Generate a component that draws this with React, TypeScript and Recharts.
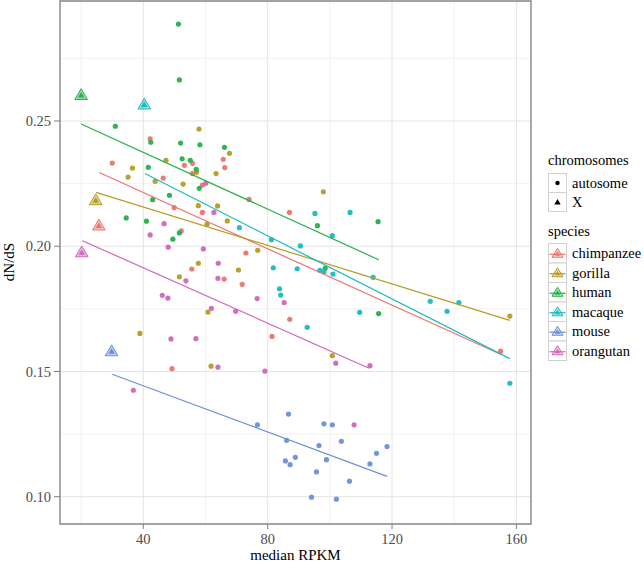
import React from 'react';
import { ScatterChart, Scatter, XAxis, YAxis, CartesianGrid, ReferenceArea } from 'recharts';

type P = [number, number];

const speciesNames = ['chimpanzee', 'gorilla', 'human', 'macaque', 'mouse', 'orangutan'];
const speciesColors = ['#EB746D', '#B59C22', '#25B04A', '#18BABF', '#6C90D6', '#D066BC'];
const chromosomeNames = ['autosome', 'X'];

const chimpanzeeAutosome: P[] = [
  [42.2, 0.2429], [30.0, 0.2332], [53.2, 0.2323], [55.8, 0.2331], [55.8, 0.2290], [46.4, 0.2272],
  [59.0, 0.2244], [49.9, 0.2154], [59.0, 0.2135], [52.2, 0.2061], [65.7, 0.2347], [66.2, 0.2314],
  [74.0, 0.2187], [87.0, 0.2135], [73.0, 0.1973], [55.6, 0.1909], [49.2, 0.1511], [66.0, 0.1869],
  [71.8, 0.1848], [87.1, 0.1708], [81.4, 0.1640], [154.9, 0.1581],
];
const gorillaAutosome: P[] = [
  [57.9, 0.2468], [36.5, 0.2312], [35.1, 0.2276], [47.3, 0.2343], [57.1, 0.2295], [63.4, 0.2290],
  [43.8, 0.2259], [52.8, 0.2248], [57.7, 0.2162], [63.9, 0.2161], [60.5, 0.2088], [67.7, 0.2371],
  [67.0, 0.2101], [97.9, 0.2217], [76.8, 0.1984], [57.7, 0.1932], [51.6, 0.1878], [60.8, 0.1737],
  [38.9, 0.1652], [61.8, 0.1521], [70.6, 0.1905], [100.8, 0.1563], [157.9, 0.1721],
];
const humanAutosome: P[] = [
  [51.3, 0.2887], [51.6, 0.2664], [31.0, 0.2479], [42.4, 0.2415], [52.0, 0.2412], [58.2, 0.2405],
  [41.6, 0.2315], [52.5, 0.2349], [55.1, 0.2343], [57.0, 0.2307], [58.0, 0.2231], [43.0, 0.2186],
  [48.4, 0.2203], [34.5, 0.2113], [41.0, 0.2100], [51.6, 0.2053], [49.5, 0.2028], [66.1, 0.2395],
  [96.0, 0.2082], [115.5, 0.2098], [98.5, 0.1912], [115.7, 0.1731],
];
const macaqueAutosome: P[] = [
  [70.9, 0.2074], [95.2, 0.2131], [106.5, 0.2135], [100.8, 0.2042], [81.2, 0.2026], [90.5, 0.2001],
  [81.8, 0.1914], [89.5, 0.1910], [96.8, 0.1904], [98.1, 0.1898], [101.0, 0.1889], [113.9, 0.1876],
  [83.8, 0.1830], [84.2, 0.1805], [92.7, 0.1676], [109.6, 0.1736], [132.3, 0.1780], [137.7, 0.1740],
  [141.5, 0.1775], [157.9, 0.1453],
];
const mouseAutosome: P[] = [
  [86.7, 0.1330], [76.7, 0.1287], [98.1, 0.1291], [100.8, 0.1287], [86.1, 0.1225], [103.7, 0.1221],
  [96.5, 0.1204], [85.7, 0.1143], [87.2, 0.1128], [88.9, 0.1157], [98.9, 0.1148], [95.7, 0.1099],
  [106.3, 0.1062], [94.1, 0.0998], [102.1, 0.0990], [115.0, 0.1173], [112.9, 0.1131], [118.4, 0.1200],
];
const orangutanAutosome: P[] = [
  [60.1, 0.2251], [62.7, 0.2135], [46.7, 0.2090], [42.2, 0.2045], [48.0, 0.1996], [59.3, 0.1989],
  [64.1, 0.1932], [53.7, 0.1862], [64.0, 0.1872], [46.1, 0.1804], [47.9, 0.1793], [61.9, 0.1752],
  [48.9, 0.1630], [56.9, 0.1631], [64.0, 0.1517], [36.8, 0.1425], [76.6, 0.1791], [69.7, 0.1740],
  [85.3, 0.1775], [79.1, 0.1501], [101.9, 0.1533], [112.9, 0.1523], [107.8, 0.1287],
];

// X chromosome value per species (same order as speciesNames)
const xChromosome: P[] = [
  [25.7, 0.2084], [24.7, 0.2185], [20.0, 0.2605], [40.3, 0.2567], [29.8, 0.1582], [20.2, 0.1977],
];

// fitted line end points per species
const fitLines: P[][] = [
  [[25.8, 0.2294], [154.9, 0.1569]],
  [[24.8, 0.2215], [157.9, 0.1704]],
  [[20.0, 0.2488], [115.7, 0.1946]],
  [[40.5, 0.2290], [157.9, 0.1551]],
  [[30.0, 0.1489], [118.4, 0.1081]],
  [[20.4, 0.2022], [112.6, 0.1513]],
];

const autosomes: P[][] = [
  chimpanzeeAutosome, gorillaAutosome, humanAutosome, macaqueAutosome, mouseAutosome, orangutanAutosome,
];

const xTicks = [40, 80, 120, 160];
const yTicks = [0.1, 0.15, 0.2, 0.25];
const xMinor = [20, 60, 100, 140];
const yMinor = [0.125, 0.175, 0.225, 0.275];
const xDomain: [number, number] = [13.2, 164.7];
const yDomain: [number, number] = [0.0891, 0.2979];

const FONT = '"Liberation Serif", "Times New Roman", serif';

const toObj = (arr: P[]) => arr.map(([x, y]) => ({ x, y }));

const Dot = (color: string) => (props: any) => {
  const { cx, cy } = props;
  if (cx == null || cy == null) return <g />;
  return <circle cx={cx} cy={cy} r={2.6} fill={color} fillOpacity={0.95} />;
};

const Tri = (color: string) => (props: any) => {
  const { cx, cy } = props;
  if (cx == null || cy == null) return <g />;
  const outer = `${cx},${cy - 6} ${cx - 6.3},${cy + 4.8} ${cx + 6.3},${cy + 4.8}`;
  const inner = `${cx},${cy - 2.6} ${cx - 3.2},${cy + 2.8} ${cx + 3.2},${cy + 2.8}`;
  return (
    <g>
      <polygon points={outer} fill={color} fillOpacity={0.45} stroke={color} strokeWidth={1} />
      <polygon points={inner} fill={color} />
    </g>
  );
};

const NoShape = () => <g />;

const YTitle = () => (
  <text x={14} y={262} transform="rotate(-90 14 262)" textAnchor="middle" fontSize={15} fill="#000" style={{ fontFamily: FONT }}>
    dN/dS
  </text>
);

const Legend = () => {
  const lx = 548;
  const kw = 18;
  const chromoCenters = [183, 202];
  const speciesTop = 243.5;
  const rowH = 19.5;
  return (
    <svg width={644} height={564} style={{ position: 'absolute', left: 0, top: 0, pointerEvents: 'none', fontFamily: FONT }}>
      <g fontSize={14.5} fill="#000" style={{ fontFamily: FONT }}>
        <text x={lx} y={160} dy="0.35em">chromosomes</text>
        {chromosomeNames.map((n, i) => {
          const cy = chromoCenters[i];
          return (
            <g key={n}>
              <rect x={lx + 0.5} y={cy - 9.5} width={kw} height={19} fill="#fff" stroke="#d0d0d0" strokeWidth={1} />
              {i === 0 ? (
                <circle cx={lx + 9.5} cy={cy} r={2.2} fill="#000" />
              ) : (
                <polygon points={`${lx + 9.5},${cy - 3} ${lx + 6.3},${cy + 2.5} ${lx + 12.7},${cy + 2.5}`} fill="#000" />
              )}
              <text x={lx + 24} y={cy} dy="0.35em">{n}</text>
            </g>
          );
        })}
        <text x={lx} y={231} dy="0.35em">species</text>
        {speciesNames.map((n, i) => {
          const cy = speciesTop + rowH * i + rowH / 2;
          const c = speciesColors[i];
          const cx = lx + 9.5;
          return (
            <g key={n}>
              <rect x={lx + 0.5} y={speciesTop + rowH * i} width={kw} height={rowH} fill="#fff" stroke="#d0d0d0" strokeWidth={1} />
              <line x1={lx + 1.5} x2={lx + kw - 0.5} y1={cy + 1} y2={cy + 1} stroke={c} strokeWidth={1.2} />
              <polygon points={`${cx},${cy - 5} ${cx - 5.5},${cy + 4} ${cx + 5.5},${cy + 4}`} fill={c} fillOpacity={0.35} stroke={c} strokeWidth={1} />
              <polygon points={`${cx},${cy - 2} ${cx - 2.5},${cy + 2.5} ${cx + 2.5},${cy + 2.5}`} fill={c} />
              <text x={lx + 24} y={cy} dy="0.35em">{n}</text>
            </g>
          );
        })}
      </g>
    </svg>
  );
};

export default function App() {
  return (
    <div style={{ position: 'absolute', left: 0, top: 0, width: 644, height: 564, background: '#fff', fontFamily: FONT }}>
      <ScatterChart width={644} height={564} margin={{ top: 1, right: 113, bottom: 0, left: 0 }} style={{ fontFamily: FONT }}>
        <CartesianGrid horizontalValues={yMinor} verticalValues={xMinor} stroke="#f2f2f2" strokeWidth={1} />
        <CartesianGrid horizontalValues={yTicks} verticalValues={xTicks} stroke="#e4e4e4" strokeWidth={1} />
        <XAxis
          type="number"
          dataKey="x"
          domain={xDomain}
          ticks={xTicks}
          allowDataOverflow
          axisLine={false}
          tickLine={{ stroke: '#7f7f7f' }}
          tickSize={5}
          tickMargin={5}
          height={40}
          tick={{ fill: '#4d4d4d', fontSize: 14.5, fontFamily: FONT }}
          label={{ value: 'median RPKM', position: 'insideBottom', offset: 4, fill: '#000', fontSize: 15, fontFamily: FONT }}
        />
        <YAxis
          type="number"
          dataKey="y"
          domain={yDomain}
          ticks={yTicks}
          allowDataOverflow
          axisLine={false}
          tickLine={{ stroke: '#7f7f7f' }}
          tickSize={6}
          tickMargin={3}
          width={60}
          tickFormatter={(v: number) => v.toFixed(2)}
          tick={{ fill: '#4d4d4d', fontSize: 14.5, fontFamily: FONT }}
          label={<YTitle />}
        />
        {autosomes.map((pts, i) => (
          <Scatter
            key={`a-${speciesNames[i]}`}
            name={speciesNames[i]}
            data={toObj(pts)}
            shape={Dot(speciesColors[i])}
            isAnimationActive={false}
          />
        ))}
        {xChromosome.map((pt, i) => (
          <Scatter
            key={`x-${speciesNames[i]}`}
            data={toObj([pt])}
            shape={Tri(speciesColors[i])}
            isAnimationActive={false}
          />
        ))}
        {fitLines.map((ln, i) => (
          <Scatter
            key={`f-${speciesNames[i]}`}
            data={toObj(ln)}
            line={{ stroke: speciesColors[i], strokeWidth: 1.2 }}
            shape={NoShape}
            isAnimationActive={false}
          />
        ))}
        <ReferenceArea
          x1={xDomain[0]}
          x2={xDomain[1]}
          y1={yDomain[0]}
          y2={yDomain[1]}
          fill="none"
          fillOpacity={0}
          stroke="#858585"
          strokeWidth={1.4}
          ifOverflow="visible"
        />
      </ScatterChart>
      <Legend />
    </div>
  );
}
